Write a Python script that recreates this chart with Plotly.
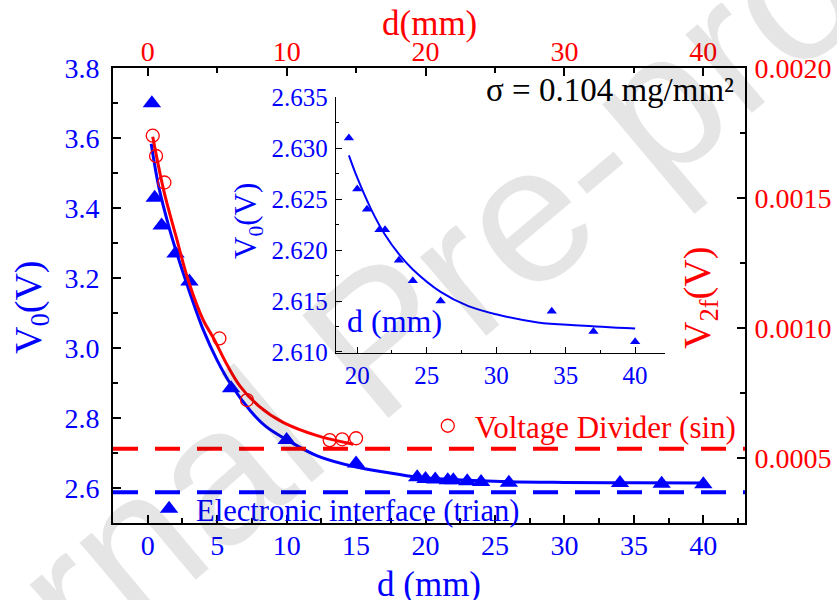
import plotly.graph_objects as go

# ---------------- data ----------------
# Electronic interface (triangles), left axis V0 (V) vs d (mm)
d_trian = [0.3, 0.5, 1.0, 2.0, 3.0, 6.0, 10.0, 15.0, 19.4, 20.0, 20.7, 21.6, 22.0,
           23.0, 24.0, 26.0, 34.0, 37.0, 40.0]
V0_trian = [3.700, 3.430, 3.350, 3.270, 3.190, 2.885, 2.737, 2.670, 2.631, 2.626,
            2.624, 2.622, 2.622, 2.619, 2.617, 2.615, 2.614, 2.612, 2.611]

# fitted curve through the triangles (main plot)
fit_d_trian = [0.25, 0.8, 1.5, 2.1, 2.8, 4.0, 5.0, 6.0, 7.4, 8.5, 10.0, 12.2, 15.0,
               17.0, 19.4, 22.0, 26.0, 30.0, 35.0, 40.0]
fit_V0_trian = [3.584, 3.460, 3.350, 3.270, 3.185, 3.052, 2.965, 2.895, 2.820, 2.776,
                2.738, 2.692, 2.660, 2.646, 2.631, 2.624, 2.618, 2.616, 2.615, 2.614]

# Voltage divider (open circles), right axis V2f (V) vs top d(mm)
d_sin = [0.36, 0.6, 1.2, 5.16, 7.15, 13.1, 14.0, 15.0]
V2f_sin = [0.001740, 0.001662, 0.001560, 0.000960, 0.000723, 0.000569, 0.000572, 0.000576]

fit_d_sin = [0.36, 1.16, 2.0, 2.95, 4.0, 4.75, 5.7, 6.67, 8.0, 9.78, 12.2, 14.8]
fit_V2f_sin = [0.001736, 0.001528, 0.001360, 0.001178, 0.001030, 0.000960, 0.000860,
               0.000775, 0.000700, 0.000636, 0.000586, 0.000553]

# inset: tail of the triangle series, with its own fitted curve
inset_min_d = 19.0
inset_fit_d = [19.4, 20.0, 21.0, 22.0, 23.0, 24.0, 26.0, 28.0, 30.0, 33.0, 36.0, 40.0]
inset_fit_V0 = [2.6293, 2.6271, 2.6240, 2.6215, 2.6196, 2.6181, 2.6159, 2.6145,
                2.6137, 2.6129, 2.6126, 2.6123]

# horizontal dashed reference levels
V0_level = 2.588
V2f_level = 0.000536

sigma_label = "σ = 0.104 mg/mm²"
watermark_text = "Journal Pre-proof"

# ---------------- styling ----------------
BLUE = "#0000FF"
RED = "#FF0000"
FONT = "Liberation Serif, Times New Roman, serif"
TICK = 28

inset_d = [d for d in d_trian if d >= inset_min_d]
inset_V0 = [v for d, v in zip(d_trian, V0_trian) if d >= inset_min_d]

fig = go.Figure()

fig.add_trace(go.Scatter(x=fit_d_trian, y=fit_V0_trian, mode="lines",
                         line=dict(color=BLUE, width=3, shape="spline"),
                         xaxis="x", yaxis="y", showlegend=False, hoverinfo="skip"))
fig.add_trace(go.Scatter(x=d_trian, y=V0_trian, mode="markers",
                         marker=dict(symbol="triangle-up", size=16, color=BLUE),
                         xaxis="x", yaxis="y", name="Electronic interface (trian)",
                         legend="legend"))
fig.add_trace(go.Scatter(x=fit_d_sin, y=fit_V2f_sin, mode="lines",
                         line=dict(color=RED, width=3, shape="spline"),
                         xaxis="x2", yaxis="y2", showlegend=False, hoverinfo="skip"))
fig.add_trace(go.Scatter(x=d_sin, y=V2f_sin, mode="markers",
                         marker=dict(symbol="circle-open", size=13, color=RED,
                                     line=dict(width=1.3, color=RED)),
                         xaxis="x2", yaxis="y2", name="Voltage Divider (sin)",
                         legend="legend2"))
fig.add_trace(go.Scatter(x=inset_fit_d, y=inset_fit_V0, mode="lines",
                         line=dict(color=BLUE, width=2, shape="spline"),
                         xaxis="x3", yaxis="y3", showlegend=False, hoverinfo="skip"))
fig.add_trace(go.Scatter(x=inset_d, y=inset_V0, mode="markers",
                         marker=dict(symbol="triangle-up", size=9, color=BLUE),
                         xaxis="x3", yaxis="y3", showlegend=False))

fig.add_shape(type="line", xref="x domain", yref="y", x0=0, x1=1, y0=V0_level, y1=V0_level,
              line=dict(color=BLUE, width=4, dash="25px,17px"))
fig.add_shape(type="line", xref="x domain", yref="y2", x0=0, x1=1, y0=V2f_level, y1=V2f_level,
              line=dict(color=RED, width=4, dash="25px,17px"))

axis_common = dict(showline=True, linewidth=2, linecolor="black", ticks="inside",
                   ticklen=8, tickwidth=2, tickcolor="black", showgrid=False,
                   zeroline=False, tickmode="linear", automargin=False)
minor_common = dict(ticks="inside", ticklen=5, tickwidth=2, tickcolor="black", showgrid=False)

inset_axis = dict(showline=True, linewidth=1, linecolor="black", ticks="inside",
                  ticklen=6, tickwidth=1, tickcolor="black", showgrid=False,
                  zeroline=False, tickmode="linear", automargin=False)
inset_minor = dict(ticks="inside", ticklen=3, tickwidth=1, tickcolor="black", showgrid=False)

fig.update_layout(
    width=837, height=600,
    margin=dict(l=113, r=92, t=68, b=77, autoexpand=False),
    plot_bgcolor="white", paper_bgcolor="white",
    font=dict(family=FONT, size=TICK, color=BLUE),
    showlegend=True,
    xaxis=dict(**axis_common, range=[-2.5, 43], tick0=0, dtick=5, anchor="y",
               domain=[0, 1], ticklabelstandoff=-4,
               tickfont=dict(family=FONT, size=TICK, color=BLUE),
               minor=dict(**minor_common, dtick=2.5)),
    xaxis2=dict(**axis_common, range=[-2.5, 43], tick0=0, dtick=10, side="top",
                overlaying="x", anchor="y", ticklabelstandoff=-6,
                tickfont=dict(family=FONT, size=TICK, color=RED),
                minor=dict(**minor_common, dtick=5)),
    yaxis=dict(**axis_common, range=[2.5, 3.8005], tick0=2.6, dtick=0.2, tickformat=".1f",
               anchor="x", domain=[0, 1], ticklabelstandoff=6,
               tickfont=dict(family=FONT, size=TICK, color=BLUE),
               minor=dict(**minor_common, dtick=0.1)),
    yaxis2=dict(**axis_common, range=[0.00025, 0.0020005], tick0=0, dtick=0.0005,
                tickformat=".4f", side="right", overlaying="y", anchor="x",
                ticklabelstandoff=2,
                tickfont=dict(family=FONT, size=TICK, color=RED),
                minor=dict(**minor_common, dtick=0.00025)),
    xaxis3=dict(**inset_axis, domain=[0.3524, 0.8734], anchor="y3", range=[18.45, 42.15],
                tick0=0, dtick=5, tickfont=dict(family=FONT, size=25, color=BLUE),
                minor=dict(**inset_minor, dtick=2.5)),
    yaxis3=dict(**inset_axis, domain=[0.3736, 0.9369], anchor="x3", range=[2.6099, 2.63505],
                tick0=2.61, dtick=0.005, tickformat=".3f", ticklabelstandoff=2,
                tickfont=dict(family=FONT, size=25, color=BLUE),
                minor=dict(**inset_minor, dtick=0.0025)),
    legend=dict(x=0.046, y=0.031, xanchor="left", yanchor="middle",
                bgcolor="rgba(0,0,0,0)", borderwidth=0, itemwidth=44,
                font=dict(family=FONT, size=30.5, color=BLUE)),
    legend2=dict(x=0.487, y=0.213, xanchor="left", yanchor="middle",
                 bgcolor="rgba(0,0,0,0)", borderwidth=0, itemwidth=44,
                 font=dict(family=FONT, size=31, color=RED)),
)

def px(xp, yp):
    return (xp - 113) / 632, (523 - yp) / 455

ann = []
wx, wy = px(378, 338)
ann.append(dict(text=watermark_text, x=wx, y=wy, xref="paper", yref="paper",
                showarrow=False, textangle=-40, xanchor="center", yanchor="middle",
                font=dict(family="Liberation Sans, Arial, sans-serif", size=195,
                          color="rgba(0,0,0,0.10)")))
for text, (cx, cy), size, color, angle, xa in [
    ("V<sub>0</sub>(V)", (31, 307), 38, BLUE, -90, "center"),
    ("V<sub>2f</sub>(V)", (700, 298), 38, RED, -90, "center"),
    ("d (mm)", (429, 584), 35, BLUE, 0, "center"),
    ("d(mm)", (429, 24), 35, RED, 0, "center"),
    (sigma_label, (736, 90), 33, "black", 0, "right"),
    ("V<sub>0</sub>(V)", (248, 221), 31, BLUE, -90, "center"),
    ("d (mm)", (394, 321), 32, BLUE, 0, "center"),
]:
    ax, ay = px(cx, cy)
    ann.append(dict(text=text, x=ax, y=ay, xref="paper", yref="paper", showarrow=False,
                    textangle=angle, xanchor=xa, yanchor="middle",
                    font=dict(family=FONT, size=size, color=color)))
fig.update_layout(annotations=ann)

fig.write_html("out.html", config={"displayModeBar": False},
               post_script="document.body.style.margin='0px';document.body.style.padding='0px';")
